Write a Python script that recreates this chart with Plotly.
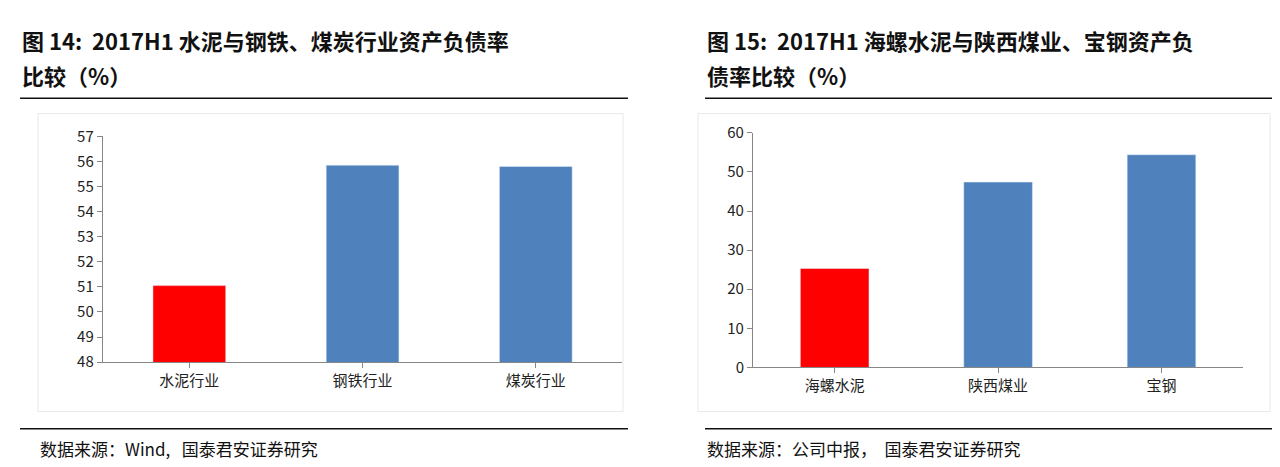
import plotly.graph_objects as go

left_cats = ["水泥行业", "钢铁行业", "煤炭行业"]
left_vals = [51.05, 55.85, 55.8]
right_cats = ["海螺水泥", "陕西煤业", "宝钢"]
right_vals = [25.3, 47.4, 54.4]
red = "#ff0000"
blue = "#4f81bd"
font = "Noto Sans CJK SC"

fig = go.Figure()
fig.add_bar(x=left_cats, y=left_vals, marker_color=[red, blue, blue], width=0.42,
            xaxis="x", yaxis="y", base=0)
fig.add_bar(x=right_cats, y=right_vals, marker_color=[red, blue, blue], width=0.42,
            xaxis="x2", yaxis="y2")

ax = dict(showline=True, linecolor="#868686", ticks="outside", tickcolor="#868686",
          ticklen=5, showgrid=False, tickfont=dict(size=15, color="#222"))
fig.update_layout(
    width=1280, height=467, margin=dict(l=0, r=0, t=0, b=0),
    paper_bgcolor="white", plot_bgcolor="white", showlegend=False,
    font=dict(family=font),
    xaxis=dict(domain=[0.074, 0.48], anchor="y", **ax),
    yaxis=dict(domain=[0.233, 0.739], range=[48, 57], dtick=1, anchor="x", **ax),
    xaxis2=dict(domain=[0.582, 0.965], anchor="y2", **ax),
    yaxis2=dict(domain=[0.221, 0.747], range=[0, 60], dtick=10, anchor="x2", **ax),
)


def note(x, y, text, size, bold=False):
    fig.add_annotation(x=x / 1280, y=1 - y / 467, xref="paper", yref="paper",
                       xanchor="left", yanchor="middle", showarrow=False,
                       font=dict(size=size, color="#111"),
                       text=f"<b>{text}</b>" if bold else text)


# titles
note(12, 21, "图 14:  2017H1 水泥与钢铁、煤炭行业资产负债率", 22, True)
note(12, 58, "比较（%）", 22, True)
note(697, 21, "图 15:  2017H1 海螺水泥与陕西煤业、宝钢资产负", 22, True)
note(697, 58, "债率比较（%）", 22, True)
# sources
note(30, 449, "数据来源：Wind,   国泰君安证券研究", 17)
note(697, 449, "数据来源：公司中报，  国泰君安证券研究", 17)

# rules and frames
for x0, x1 in [(12, 620), (697, 1270)]:
    for yy in [82, 428]:
        fig.add_shape(type="line", xref="paper", yref="paper", x0=x0 / 1280, x1=x1 / 1280,
                      y0=1 - yy / 467, y1=1 - yy / 467, line=dict(color="#111", width=1.5))
for x0, x1 in [(30, 615), (690, 1262)]:
    fig.add_shape(type="rect", xref="paper", yref="paper", x0=x0 / 1280, x1=x1 / 1280,
                  y0=1 - 410 / 467, y1=1 - 98 / 467, line=dict(color="#e8e8e8", width=1))

fig.write_html("out.html")
